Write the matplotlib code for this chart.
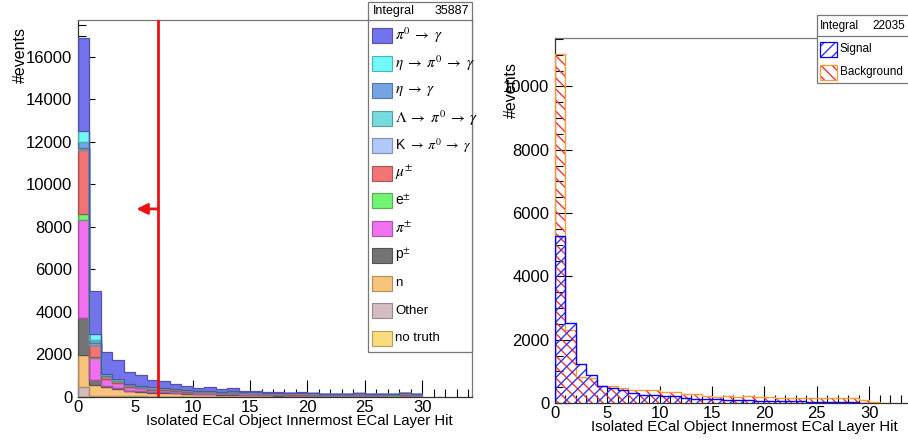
import numpy as np
import matplotlib
matplotlib.use("Agg")
import matplotlib.pyplot as plt
from matplotlib.patches import Rectangle
from matplotlib.ticker import MultipleLocator

plt.rcParams['font.family'] = ['Liberation Sans', 'DejaVu Sans']
plt.rcParams['mathtext.fontset'] = 'stix'

# ---------------- data: left panel (stacked truth categories), bins of width 1 from 0 to 30
labels = [r"$\pi^{0}\;\rightarrow\;\gamma$",
          r"$\eta\;\rightarrow\;\pi^{0}\;\rightarrow\;\gamma$",
          r"$\eta\;\rightarrow\;\gamma$",
          r"$\Lambda\;\rightarrow\;\pi^{0}\;\rightarrow\;\gamma$",
          r"K $\rightarrow\;\pi^{0}\;\rightarrow\;\gamma$",
          r"$\mu^{\pm}$", r"e$^{\pm}$", r"$\pi^{\pm}$", r"p$^{\pm}$",
          "n", "Other", "no truth"]

pi0 = [4370, 2030, 1040, 880, 530, 490, 330, 330, 215, 160, 150, 170, 100, 140, 70,
       60, 40, 30, 30, 45, 40, 20, 5, 15, 15, 10, 10, 0, 10, 0]
eta_pi0 = [510, 250, 60, 45, 30, 25, 20, 18, 15, 12, 10, 10, 8, 8, 7,
           6, 5, 5, 5, 5, 4, 3, 3, 3, 3, 3, 2, 2, 2, 2]
eta_gamma = [290, 150, 40, 30, 20, 15, 12, 10, 8, 8, 6, 6, 5, 5, 4,
             4, 3, 3, 3, 3, 2, 2, 2, 2, 2, 2, 1, 1, 1, 1]
lambda_pi0 = [40, 80, 15, 10, 8, 6, 5, 5, 4, 4, 3, 3, 3, 3, 2,
              2, 2, 2, 2, 2, 1, 1, 1, 1, 1, 1, 1, 1, 1, 1]
k_pi0 = [30, 40, 10, 8, 6, 5, 4, 4, 3, 3, 3, 3, 2, 2, 2,
         2, 2, 2, 1, 1, 1, 1, 1, 1, 1, 1, 1, 1, 1, 1]
mu_pm = [3010, 570, 130, 110, 90, 80, 70, 70, 65, 60, 55, 60, 50, 60, 50,
         55, 50, 50, 55, 60, 60, 50, 40, 55, 70, 65, 70, 55, 100, 70]
e_pm = [280, 30, 15, 10, 10, 8, 6, 6, 5, 5, 5, 5, 4, 4, 4,
        3, 3, 3, 3, 3, 3, 2, 2, 2, 2, 2, 2, 2, 2, 2]
pi_pm = [4650, 1030, 300, 250, 160, 130, 110, 110, 90, 80, 70, 70, 60, 60, 50,
         50, 45, 40, 40, 40, 40, 35, 30, 35, 40, 35, 35, 30, 45, 35]
p_pm = [1720, 240, 60, 40, 30, 25, 20, 20, 15, 15, 10, 10, 10, 10, 10,
        10, 10, 10, 5, 5, 5, 5, 5, 5, 5, 5, 5, 5, 5, 5]
neutron = [1510, 490, 430, 330, 250, 220, 190, 180, 160, 140, 120, 120, 100, 100, 90,
           80, 70, 60, 60, 60, 50, 40, 40, 40, 40, 30, 30, 30, 30, 30]
other = [450, 60, 30, 25, 20, 20, 15, 15, 15, 10, 10, 10, 10, 10, 10,
         10, 10, 10, 5, 5, 5, 5, 5, 5, 5, 5, 5, 5, 5, 5]
no_truth = [20, 10, 10, 5, 5, 5, 5, 5, 5, 5, 5, 5, 5, 5, 5,
            0, 0, 0, 0, 0, 0, 0, 0, 0, 0, 0, 0, 0, 0, 0]

components = [pi0, eta_pi0, eta_gamma, lambda_pi0, k_pi0, mu_pm, e_pm, pi_pm,
              p_pm, neutron, other, no_truth]
colors = ["#7373ee", "#70fafa", "#74a4e4", "#74dcdc", "#b0c8fa", "#f27474",
          "#72f472", "#f070f0", "#747474", "#f8c47c", "#d4bcc0", "#fadc7c"]
left_integral = "35887"
cut_value = 7
arrow_y = 8850
arrow_tip = 5.1

# ---------------- data: right panel
signal = [5260, 2520, 1230, 880, 550, 470, 410, 310, 250, 240, 230, 220, 150, 140, 140,
          120, 100, 90, 80, 70, 60, 60, 50, 50, 40, 40, 30, 30, 20, 0]
background = [11030, 2310, 830, 780, 550, 550, 470, 400, 400, 420, 340, 340, 275, 270, 220,
              200, 210, 200, 210, 200, 200, 160, 160, 160, 160, 160, 160, 160, 170, 100, 40, 10]
right_integral = "22035"
right_labels = ["Signal", "Background"]

xlabel = "Isolated ECal Object Innermost ECal Layer Hit"
ylabel = "#events"

W, H = 908, 443
fig = plt.figure(figsize=(W / 100, H / 100), dpi=100)


def px_axes(l, t, r, b):
    return fig.add_axes([l / W, 1 - b / H, (r - l) / W, (b - t) / H])


def darker(c, f=0.72):
    rgb = np.array(matplotlib.colors.to_rgb(c))
    return tuple(rgb * f)


def style_axis(ax):
    ax.tick_params(which='both', direction='in', top=False, right=False,
                   labelsize=12, color='black')
    ax.tick_params(which='major', length=12, width=0.8)
    ax.tick_params(which='minor', length=6, width=0.8)
    ax.tick_params(axis='y', pad=4)
    ax.tick_params(axis='x', pad=2)
    for s in ['top', 'right']:
        ax.spines[s].set_color('#777777')
        ax.spines[s].set_linewidth(0.9)
    for s in ['left', 'bottom']:
        ax.spines[s].set_color('#333333')
        ax.spines[s].set_linewidth(0.9)
    ax.xaxis.set_major_locator(MultipleLocator(5))
    ax.xaxis.set_minor_locator(MultipleLocator(1))


# ---------------- left panel
ax1 = px_axes(78, 20, 472, 397)
edges = np.arange(len(pi0) + 1)
stack_order = list(range(len(components)))[::-1]  # bottom: last in legend
base = np.zeros(len(pi0))
for i in stack_order:
    vals = np.array(components[i], dtype=float)
    top = base + vals
    ax1.stairs(top, edges, baseline=base, fill=True, color=colors[i], lw=0, zorder=2)
    ax1.stairs(top, edges, baseline=base, fill=False, color=darker(colors[i]),
               lw=0.9, zorder=3)
    base = top
ax1.set_xlim(0, 34.35)
ax1.set_ylim(0, 17740)
ax1.yaxis.set_major_locator(MultipleLocator(2000))
ax1.yaxis.set_minor_locator(MultipleLocator(500))
style_axis(ax1)
ax1.axvline(cut_value, color='#ee1111', lw=2, zorder=5)
ax1.annotate('', xy=(arrow_tip, arrow_y), xytext=(cut_value, arrow_y),
             arrowprops=dict(arrowstyle='-|>', color='#ee1111', lw=2,
                             mutation_scale=16, shrinkA=0, shrinkB=0), zorder=5)

# ---------------- right panel
ax2 = px_axes(555, 38, 911, 403)
e_sig = np.arange(len(signal) + 1)
e_bkg = np.arange(len(background) + 1)
ax2.stairs(background, e_bkg, fill=True, facecolor='none', edgecolor='#ff3333',
           hatch='\\\\\\', lw=0, zorder=2)
ax2.stairs(background, e_bkg, fill=False, color='#ff9933', lw=1, zorder=3)
ax2.stairs(signal, e_sig, fill=True, facecolor='none', edgecolor='#3333ff',
           hatch='///', lw=0, zorder=4)
ax2.stairs(signal, e_sig, fill=False, color='#0000ff', lw=1, zorder=5)
ax2.set_xlim(0, 34)
ax2.set_ylim(0, 11530)
ax2.yaxis.set_major_locator(MultipleLocator(2000))
ax2.yaxis.set_minor_locator(MultipleLocator(500))
style_axis(ax2)

# ---------------- overlay for labels and legends (pixel coordinates)
ov = fig.add_axes([0, 0, 1, 1], zorder=10)
ov.set_xlim(0, W)
ov.set_ylim(H, 0)
ov.axis('off')

ov.text(453, 421, xlabel, ha='right', va='center', fontsize=10.7)
ov.text(898, 427, xlabel, ha='right', va='center', fontsize=10.7)
ov.text(20, 27, ylabel, ha='center', va='top', rotation=90, fontsize=11.5)
ov.text(511, 62, ylabel, ha='center', va='top', rotation=90, fontsize=11.5)

# left legend
ov.add_patch(Rectangle((368, 2), 104, 350, facecolor='white', edgecolor='#777777', lw=0.9))
ov.plot([368, 472], [19.5, 19.5], color='#777777', lw=0.9)
ov.text(373, 10.5, "Integral", fontsize=9, ha='left', va='center')
ov.text(469, 10.5, left_integral, fontsize=9, ha='right', va='center')
row0, dy = 35.5, 27.5
for k, (lab, col) in enumerate(zip(labels, colors)):
    yc = row0 + k * dy
    ov.add_patch(Rectangle((372, yc - 7.5), 20, 15, facecolor=col,
                           edgecolor=darker(col), lw=0.8))
    fs = 11 if '$' in lab else 9.5
    if lab.startswith('K') or lab.startswith('e') or lab.startswith('p'):
        fs = 10
    t = ov.text(395, yc, lab, fontsize=fs, ha='left', va='center')
    t.set_clip_path(Rectangle((368, 2), 104, 350, transform=ov.transData))

# right legend
ov.add_patch(Rectangle((817, 15), 95, 68, facecolor='white', edgecolor='#777777', lw=0.9))
ov.plot([817, 908], [36, 36], color='#777777', lw=0.9)
ov.text(820, 26, "Integral", fontsize=8.5, ha='left', va='center')
ov.text(905, 26, right_integral, fontsize=8.5, ha='right', va='center')
specs = [('#3333ff', '#0000ff', '///'), ('#ff3333', '#ff9933', '\\\\\\')]
for k, (lab, (hc, ec, hp)) in enumerate(zip(right_labels, specs)):
    yc = 49 + k * 23
    ov.add_patch(Rectangle((820, yc - 7.5), 17, 15, facecolor='none', edgecolor=hc,
                           hatch=hp, lw=0))
    ov.add_patch(Rectangle((820, yc - 7.5), 17, 15, facecolor='none', edgecolor=ec, lw=0.9))
    ov.text(840, yc, lab, fontsize=8.5, ha='left', va='center')

fig.savefig("out.png", dpi=100)
